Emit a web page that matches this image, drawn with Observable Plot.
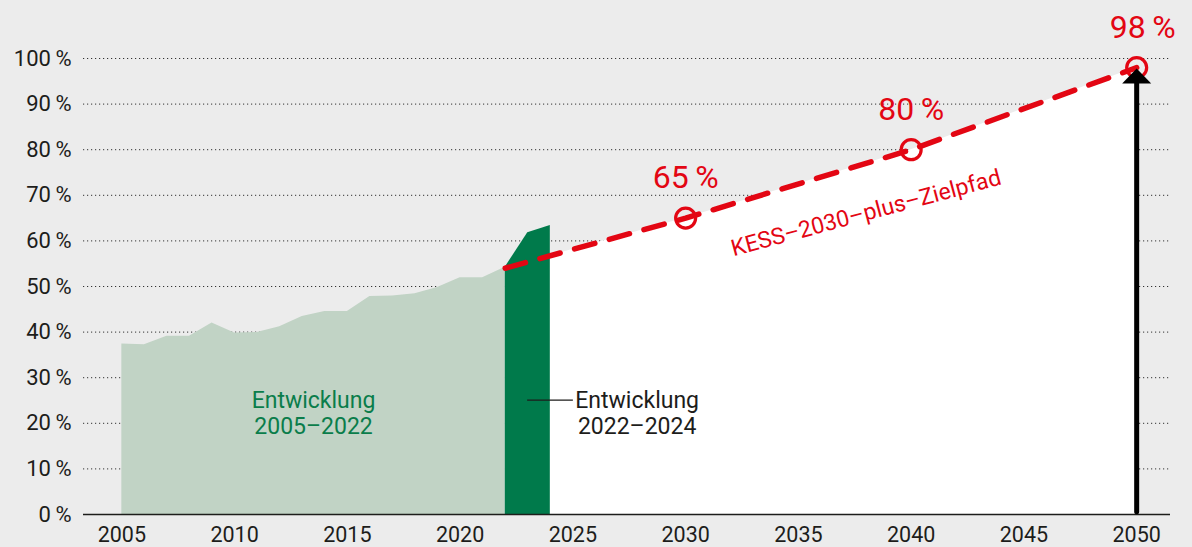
<!DOCTYPE html>
<html>
<head>
<meta charset="utf-8">
<script src="https://cdn.jsdelivr.net/npm/d3@7"></script>
<script src="https://cdn.jsdelivr.net/npm/@observablehq/plot@0.6"></script>
<style>
  html, body { margin: 0; padding: 0; background: #ececec; }
  #chart svg { display: block; }
</style>
</head>
<body>
<div id="chart"></div>
<script>
// Historical share (%) 2005–2022
const histYears  = [2005,2006,2007,2008,2009,2010,2011,2012,2013,2014,2015,2016,2017,2018,2019,2020,2021,2022];
const histShares = [37.4,37.2,39.1,39.1,42.0,39.8,39.9,41.2,43.4,44.5,44.5,47.8,47.9,48.4,49.8,51.9,51.9,54.2];
// Recent development 2022–2024
const recentYears  = [2022,2023,2024];
const recentShares = [54.2,61.8,63.4];
// KESS-2030-plus target path
const pathYears  = [2022,2030,2040,2050];
const pathShares = [54.0,65,80,98];
// Target milestones
const targetYears  = [2030,2040,2050];
const targetShares = [65,80,98];
const targetLabels = ["65\u2009%","80\u2009%","98\u2009%"];
// Axis ticks
const xTicks = [2005,2010,2015,2020,2025,2030,2035,2040,2045,2050];
const yTicks = [0,10,20,30,40,50,60,70,80,90,100];
const yGrid  = [10,20,30,40,50,60,70,80,90,100];
// Annotations
const annoGreen = {year: 2013.5, share: 22.3, text: "Entwicklung\n2005–2022"};
const annoDark  = {year: 2027.85, share: 22.3, text: "Entwicklung\n2022–2024"};
const leader    = {year1: 2022.97, year2: 2025.0, share: 25.1};
const pathLabel = {year: 2038.0, share: 66.1, text: "KESS–2030–plus–Zielpfad", angle: -15};
const arrowTop  = 95;

const RED = "#e30613", DARK = "#007a4b", LIGHT = "#c1d3c5", GREENTXT = "#0a7d4b", INK = "#1d1d1b";

const hist   = histYears.map((y, i) => ({year: y, share: histShares[i]}));
const recent = recentYears.map((y, i) => ({year: y, share: recentShares[i]}));
const path   = pathYears.map((y, i) => ({year: y, share: pathShares[i]}));
const targets = targetYears.map((y, i) => ({year: y, share: targetShares[i], label: targetLabels[i]}));

const arrowHead = {
  draw(ctx) {
    ctx.moveTo(0, 1);
    ctx.lineTo(14.5, 16);
    ctx.lineTo(-14.5, 16);
    ctx.closePath();
  }
};

const chart = Plot.plot({
  width: 1192,
  height: 547,
  marginLeft: 83,
  marginRight: 22,
  marginTop: 58,
  marginBottom: 33,
  style: {background: "#ececec", fontFamily: "Roboto, 'Noto Sans', sans-serif", fontSize: "21px", color: INK},
  x: {domain: [2003.3, 2051.5]},
  y: {domain: [0, 100]},
  marks: [
    Plot.ruleY(yGrid, {stroke: "#333", strokeWidth: 1, strokeDasharray: "1.2,2.8"}),
    Plot.areaY(hist, {x: "year", y: "share", fill: LIGHT}),
    Plot.areaY(path, {x: "year", y: "share", fill: "white"}),
    Plot.areaY(recent, {x: "year", y: "share", fill: DARK}),
    Plot.ruleY([0], {stroke: INK, strokeWidth: 1.5}),
    Plot.axisX({ticks: xTicks, label: null, tickSize: 0, tickPadding: 12, tickFormat: d => String(d), fontSize: 21.5, fill: INK}),
    Plot.axisY({ticks: yTicks, label: null, tickSize: 0, tickPadding: 12, tickFormat: d => d + "\u2009%", fontSize: 22, fill: INK}),
    Plot.line(path, {x: "year", y: "share", stroke: RED, strokeWidth: 5.5, strokeDasharray: "21,15", strokeLinecap: "round"}),
    Plot.dot(targets, {x: "year", y: "share", r: 10, stroke: RED, strokeWidth: 3.2, fill: "none"}),
    Plot.ruleX([2050], {y1: 0.5, y2: arrowTop, stroke: "black", strokeWidth: 5, strokeLinecap: "round"}),
    Plot.dot([targets[2]], {x: "year", y: "share", symbol: arrowHead, fill: "black", stroke: "none"}),
    Plot.text(targets.slice(0, 2), {x: "year", y: "share", text: "label", dy: -40, fontSize: 32, fill: RED}),
    Plot.text(targets.slice(2), {x: "year", y: "share", text: "label", dy: -40, dx: 6, fontSize: 32, fill: RED}),
    Plot.text([pathLabel], {x: "year", y: "share", text: "text", rotate: pathLabel.angle, fontSize: 23, fill: RED}),
    Plot.text([annoGreen], {x: "year", y: "share", text: "text", fontSize: 23, lineHeight: 1.1, fill: GREENTXT}),
    Plot.text([annoDark], {x: "year", y: "share", text: "text", fontSize: 23, lineHeight: 1.1, fill: INK}),
    Plot.link([leader], {x1: "year1", x2: "year2", y1: "share", y2: "share", stroke: INK, strokeWidth: 1.2})
  ]
});
document.getElementById("chart").appendChild(chart);
</script>
</body>
</html>
